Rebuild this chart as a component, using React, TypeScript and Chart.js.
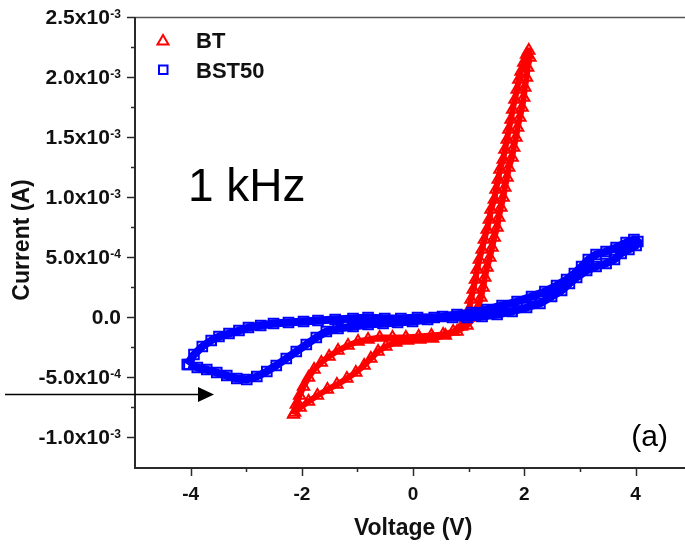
import { useEffect, useRef } from "react";
import { Chart, registerables } from "chart.js";

Chart.register(...registerables);

// ---- data (voltage in V, current in mA) ----
const btVoltage = [
  -2.15, -2.1, -2.04, -1.97, -1.88, -1.78, -1.65, -1.51, -1.35, -1.17, -0.99, -0.81, -0.6, -0.37, -0.13, 0.1, 0.33, 0.54,
  0.72, 0.87, 0.96, 1.01, 1.04, 1.08, 1.12, 1.15, 1.19, 1.24, 1.28, 1.33, 1.37, 1.4, 1.46, 1.49, 1.53, 1.56, 1.62, 1.65,
  1.69, 1.72, 1.76, 1.79, 1.83, 1.87, 1.9, 1.94, 1.99, 2.04, 2.08,
  2.1, 2.06, 2.04, 2.01, 1.99, 1.96, 1.92, 1.88, 1.85, 1.81, 1.78, 1.72, 1.69, 1.65, 1.62, 1.58, 1.54, 1.51, 1.46, 1.42,
  1.38, 1.33, 1.29, 1.26, 1.22, 1.17, 1.1, 0.97, 0.79, 0.58, 0.35, 0.12, -0.1, -0.31, -0.49, -0.63, -0.76, -0.88, -1.03,
  -1.19, -1.37, -1.54, -1.72, -1.88, -2.03, -2.13,
];
const btCurrentMA = [
  -0.813, -0.729, -0.654, -0.579, -0.504, -0.438, -0.379, -0.329, -0.279, -0.238, -0.204, -0.188, -0.171, -0.171, -0.171,
  -0.163, -0.154, -0.146, -0.121, -0.079, -0.013, 0.063, 0.146, 0.229, 0.313, 0.396, 0.479, 0.563, 0.646, 0.729, 0.813,
  0.896, 0.979, 1.063, 1.146, 1.229, 1.313, 1.396, 1.479, 1.563, 1.646, 1.729, 1.813, 1.896, 1.979, 2.046, 2.121, 2.188,
  2.221,
  2.163, 2.079, 1.996, 1.913, 1.829, 1.746, 1.663, 1.579, 1.496, 1.413, 1.329, 1.246, 1.163, 1.079, 0.996, 0.913, 0.829,
  0.746, 0.663, 0.579, 0.496, 0.413, 0.329, 0.246, 0.163, 0.079, -0.004, -0.071, -0.121, -0.154, -0.179, -0.188, -0.196,
  -0.213, -0.246, -0.288, -0.346, -0.404, -0.463, -0.513, -0.563, -0.604, -0.654, -0.704, -0.754, -0.796,
];
const bstVoltage = [
  -4.06, -3.94, -3.79, -3.63, -3.49, -3.31, -3.13, -2.96, -2.74, -2.51, -2.24, -1.97, -1.71, -1.4, -1.08, -0.81, -0.51,
  -0.22, 0.08, 0.38, 0.71, 0.97, 1.24, 1.51, 1.78, 2.04, 2.28, 2.49, 2.67, 2.81, 2.94, 3.12, 3.29, 3.47, 3.62, 3.74, 3.88,
  4.01, 4.04,
  3.97, 3.83, 3.65, 3.47, 3.29, 3.15, 3.03, 2.9, 2.76, 2.58, 2.37, 2.13, 1.87, 1.6, 1.33, 1.06, 0.79, 0.53, 0.26, -0.01,
  -0.28, -0.54, -0.81, -1.08, -1.35, -1.56, -1.74, -1.92, -2.1, -2.28, -2.46, -2.63, -2.81, -2.99, -3.17, -3.35, -3.53,
  -3.71, -3.88, -4.03,
];
const bstCurrentMA = [
  -0.396, -0.313, -0.246, -0.196, -0.163, -0.138, -0.113, -0.088, -0.071, -0.054, -0.046, -0.038, -0.029, -0.021, -0.013,
  -0.004, -0.013, -0.013, -0.004, -0.004, -0.004, -0.004, 0.004, 0.021, 0.046, 0.079, 0.113, 0.171, 0.221, 0.279, 0.329,
  0.388, 0.421, 0.446, 0.479, 0.529, 0.563, 0.596, 0.629,
  0.646, 0.621, 0.579, 0.546, 0.521, 0.479, 0.421, 0.363, 0.313, 0.263, 0.213, 0.171, 0.129, 0.096, 0.063, 0.038, 0.021,
  0.004, -0.021, -0.038, -0.046, -0.054, -0.063, -0.079, -0.096, -0.121, -0.171, -0.229, -0.288, -0.346, -0.404, -0.454,
  -0.496, -0.521, -0.513, -0.488, -0.463, -0.438, -0.421, -0.396,
];

const seriesNames = ["BT", "BST50"];
const seriesColors = ["#ff0000", "#0000ff"];

// ---- axes ----
const xMin = -5;
const xMax = 5;
const yMin = -1.25;
const yMax = 2.5;
const xTickValues = [-4, -2, 0, 2, 4];
const xTickLabels = ["-4", "-2", "0", "2", "4"];
const xMinorTicks = [-3, -1, 1, 3];
const yTickValues = [2.5, 2, 1.5, 1, 0.5, 0, -0.5, -1];
const yTickMantissas = ["2.5x10", "2.0x10", "1.5x10", "1.0x10", "5.0x10", "0.0", "-5.0x10", "-1.0x10"];
const yTickExponents = ["-3", "-3", "-3", "-3", "-4", "", "-4", "-3"];
const yMinorTicks = [2.25, 1.75, 1.25, 0.75, 0.25, -0.25, -0.75];
const xTitle = "Voltage (V)";
const yTitle = "Current (A)";
const freqLabel = "1 kHz";
const panelLabel = "(a)";
const arrowTip = { x: -3.58, y: -0.6375 };

const FONT = "'Liberation Sans', Arial, sans-serif";

const decorPlugin = {
  id: "decor",
  afterDraw(chart: any) {
    const { ctx, chartArea: a, scales } = chart;
    const xs = scales.x;
    const ys = scales.y;
    ctx.save();

    // top border
    ctx.lineWidth = 1.5;
    ctx.strokeStyle = "#555";
    ctx.beginPath();
    ctx.moveTo(a.left, a.top + 0.5);
    ctx.lineTo(a.right, a.top + 0.5);
    ctx.stroke();

    // axes lines
    ctx.strokeStyle = "#2a2a2a";
    ctx.lineWidth = 2;
    ctx.beginPath();
    ctx.moveTo(a.left, a.top);
    ctx.lineTo(a.left, a.bottom + 1);
    ctx.lineTo(a.right, a.bottom + 1);
    ctx.stroke();

    // y ticks
    ctx.lineWidth = 1.5;
    yTickValues.forEach((v) => {
      const py = Math.round(ys.getPixelForValue(v)) + 0.5;
      ctx.beginPath();
      ctx.moveTo(a.left - 8, py);
      ctx.lineTo(a.left, py);
      ctx.stroke();
    });
    yMinorTicks.forEach((v) => {
      const py = Math.round(ys.getPixelForValue(v)) + 0.5;
      ctx.beginPath();
      ctx.moveTo(a.left - 4, py);
      ctx.lineTo(a.left, py);
      ctx.stroke();
    });
    // x ticks
    xTickValues.forEach((v) => {
      const px = Math.round(xs.getPixelForValue(v)) + 0.5;
      ctx.beginPath();
      ctx.moveTo(px, a.bottom);
      ctx.lineTo(px, a.bottom + 9);
      ctx.stroke();
    });
    xMinorTicks.forEach((v) => {
      const px = Math.round(xs.getPixelForValue(v)) + 0.5;
      ctx.beginPath();
      ctx.moveTo(px, a.bottom);
      ctx.lineTo(px, a.bottom + 5);
      ctx.stroke();
    });

    // y tick labels
    ctx.fillStyle = "#111";
    const labelRight = a.left - 14;
    yTickValues.forEach((v, i) => {
      const py = ys.getPixelForValue(v);
      ctx.textAlign = "right";
      ctx.textBaseline = "alphabetic";
      let right = labelRight;
      if (yTickExponents[i]) {
        ctx.font = `bold 12px ${FONT}`;
        ctx.fillText(yTickExponents[i], right, py + 1);
        right -= ctx.measureText(yTickExponents[i]).width + 0.5;
      }
      ctx.font = `bold 21px ${FONT}`;
      ctx.fillText(yTickMantissas[i], right, py + 7);
    });

    // x tick labels
    ctx.font = `bold 19px ${FONT}`;
    ctx.textAlign = "center";
    xTickValues.forEach((v, i) => {
      const px = xs.getPixelForValue(v);
      ctx.fillText(xTickLabels[i], px, a.bottom + 33);
    });

    // axis titles
    ctx.font = `bold 23px ${FONT}`;
    ctx.textAlign = "center";
    ctx.fillText(xTitle, xs.getPixelForValue(0), a.bottom + 68);
    ctx.save();
    ctx.translate(29, (a.top + a.bottom) / 2 - 2);
    ctx.rotate(-Math.PI / 2);
    ctx.fillText(yTitle, 0, 0);
    ctx.restore();

    // annotations
    ctx.fillStyle = "#000";
    ctx.font = `46px ${FONT}`;
    ctx.textAlign = "left";
    ctx.fillText(freqLabel, 188, 201);
    ctx.font = `30px ${FONT}`;
    ctx.textAlign = "right";
    ctx.fillText(panelLabel, 668, 446);

    // arrow
    const tipX = xs.getPixelForValue(arrowTip.x);
    const tipY = Math.round(ys.getPixelForValue(arrowTip.y)) + 0.5;
    ctx.strokeStyle = "#000";
    ctx.lineWidth = 1.5;
    ctx.beginPath();
    ctx.moveTo(5, tipY);
    ctx.lineTo(tipX - 14, tipY);
    ctx.stroke();
    ctx.beginPath();
    ctx.moveTo(tipX, tipY);
    ctx.lineTo(tipX - 16, tipY - 7.5);
    ctx.lineTo(tipX - 16, tipY + 7.5);
    ctx.closePath();
    ctx.fill();

    // legend
    const lx = a.left + 28;
    ctx.lineWidth = 2;
    ctx.strokeStyle = seriesColors[0];
    ctx.beginPath();
    ctx.moveTo(lx, 35);
    ctx.lineTo(lx + 5.5, 44.5);
    ctx.lineTo(lx - 5.5, 44.5);
    ctx.closePath();
    ctx.stroke();
    ctx.strokeStyle = seriesColors[1];
    ctx.strokeRect(lx - 4, 65.5, 8.5, 8.5);
    ctx.fillStyle = "#111";
    ctx.font = `bold 22px ${FONT}`;
    ctx.textAlign = "left";
    ctx.fillText(seriesNames[0], lx + 33, 48);
    ctx.fillText(seriesNames[1], lx + 33, 78);

    ctx.restore();
  },
};

export default function App() {
  const canvasRef = useRef<HTMLCanvasElement | null>(null);

  useEffect(() => {
    const canvas = canvasRef.current;
    if (!canvas) return;
    const btData = btVoltage.map((v, i) => ({ x: v, y: btCurrentMA[i] }));
    const bstData = bstVoltage.map((v, i) => ({ x: v, y: bstCurrentMA[i] }));
    const chart = new Chart(canvas, {
      type: "scatter",
      data: {
        datasets: [
          {
            label: seriesNames[0],
            data: btData,
            order: 2,
            showLine: true,
            borderColor: seriesColors[0],
            borderWidth: 6,
            borderJoinStyle: "round",
            pointStyle: "triangle",
            pointRadius: 6.5,
            pointBorderWidth: 2,
            pointBorderColor: seriesColors[0],
            pointBackgroundColor: "rgba(255,255,255,0)",
          },
          {
            label: seriesNames[1],
            data: bstData,
            order: 1,
            showLine: true,
            borderColor: seriesColors[1],
            borderWidth: 8,
            borderJoinStyle: "round",
            pointStyle: "rect",
            pointRadius: 6.8,
            pointBorderWidth: 2,
            pointBorderColor: seriesColors[1],
            pointBackgroundColor: "rgba(255,255,255,0)",
          },
        ],
      },
      options: {
        responsive: false,
        animation: false,
        devicePixelRatio: 1,
        layout: { padding: { top: 17, right: 4.5, left: 0, bottom: 0 } },
        plugins: { legend: { display: false }, tooltip: { enabled: false } },
        events: [],
        scales: {
          x: {
            type: "linear",
            min: xMin,
            max: xMax,
            grid: { display: false, drawTicks: false },
            border: { display: false },
            ticks: { display: false },
            afterFit: (s: any) => {
              s.height = 77;
            },
          },
          y: {
            type: "linear",
            min: yMin,
            max: yMax,
            grid: { display: false, drawTicks: false },
            border: { display: false },
            ticks: { display: false },
            afterFit: (s: any) => {
              s.width = 135;
            },
          },
        },
      },
      plugins: [decorPlugin],
    });
    return () => chart.destroy();
  }, []);

  return (
    <div style={{ position: "fixed", left: 0, top: 0, width: 685, height: 544, overflow: "hidden", background: "#fff" }}>
      <canvas ref={canvasRef} width={700} height={544} style={{ display: "block" }} />
    </div>
  );
}
